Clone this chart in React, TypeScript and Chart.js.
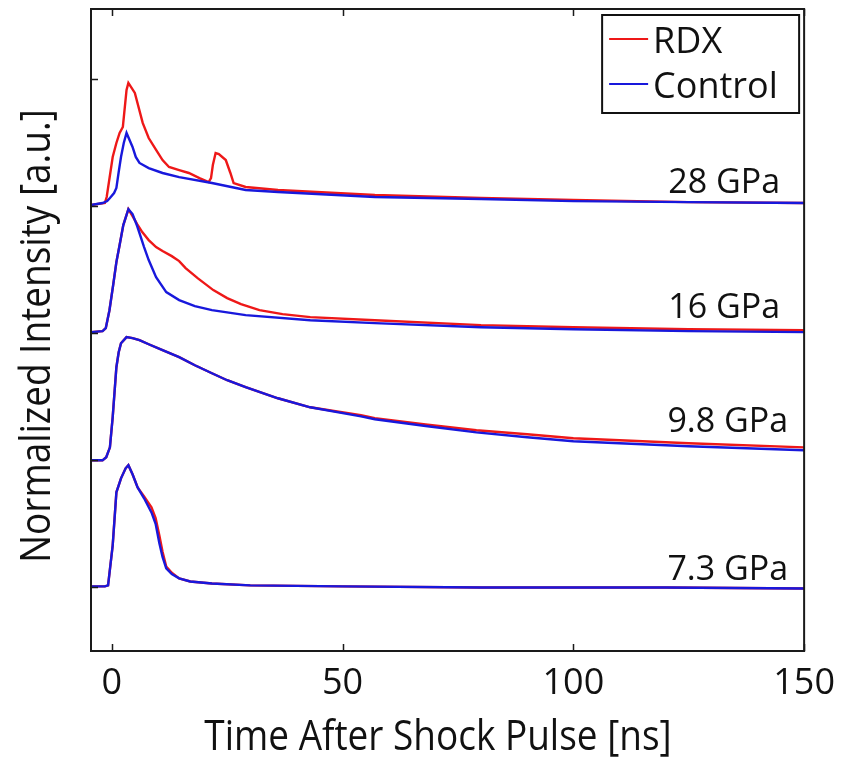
import { useEffect, useRef } from 'react';
import { Chart, registerables } from 'chart.js';
Chart.register(...registerables);

// ---------------- data ----------------
const seriesNames = ['RDX', 'Control'];
const pressureLabels = ['7.3 GPa', '9.8 GPa', '16 GPa', '28 GPa'];
const traceOffsets = [0, 1, 2, 3];
const xTicks = [0, 50, 100, 150];
const yTicks = [0, 1, 2, 3, 4];

// 7.3 GPa
const t73 = [-4.5, -1.5, -0.8, 0.2, 1.0, 2.0, 3.0, 3.6, 4.5, 5.6, 7.0, 8.6, 9.5, 10.3, 11.0, 11.8, 13, 14.6, 17, 21.7, 30, 50, 80, 100, 120, 150];
const rdx73 = [0.008, 0.008, 0.016, 0.331, 0.748, 0.858, 0.937, 0.961, 0.890, 0.787, 0.715, 0.630, 0.545, 0.410, 0.280, 0.165, 0.115, 0.071, 0.047, 0.031, 0.016, 0.008, 0.0, 0.0, 0.0, -0.008];
const ctl73 = [0.008, 0.008, 0.016, 0.331, 0.748, 0.858, 0.937, 0.961, 0.890, 0.787, 0.701, 0.590, 0.500, 0.350, 0.240, 0.150, 0.105, 0.071, 0.047, 0.031, 0.016, 0.008, 0.0, 0.0, 0.0, -0.008];

// 9.8 GPa
const t98 = [-4.5, -2, -1.2, -0.4, 0.2, 1.0, 1.5, 2.0, 3.2, 4.5, 6, 8, 11, 14.6, 18, 21.7, 25, 29, 36, 43, 54, 57, 68, 79, 90, 100, 125, 150];
const rdx98 = [0.0, 0.0, 0.024, 0.102, 0.339, 0.732, 0.850, 0.921, 0.969, 0.961, 0.945, 0.913, 0.866, 0.811, 0.748, 0.685, 0.630, 0.575, 0.488, 0.417, 0.354, 0.331, 0.283, 0.236, 0.205, 0.173, 0.134, 0.102];
const ctl98 = [0.0, 0.0, 0.024, 0.102, 0.339, 0.732, 0.850, 0.921, 0.969, 0.961, 0.945, 0.913, 0.866, 0.811, 0.748, 0.685, 0.630, 0.575, 0.488, 0.417, 0.346, 0.323, 0.270, 0.220, 0.181, 0.150, 0.110, 0.079];

// 16 GPa
const t16r = [-4.5, -2, -1.3, -0.5, 0.3, 1.0, 1.7, 2.5, 3.6, 4.5, 5.5, 6.6, 8, 9.6, 11, 13, 14.6, 16, 18.6, 22, 25, 28, 32, 37, 43, 57, 80, 100, 125, 150];
const rdx16 = [0.008, 0.016, 0.039, 0.181, 0.378, 0.559, 0.693, 0.850, 0.976, 0.921, 0.858, 0.795, 0.732, 0.677, 0.646, 0.606, 0.567, 0.512, 0.433, 0.339, 0.276, 0.228, 0.181, 0.150, 0.126, 0.102, 0.063, 0.047, 0.031, 0.024];
const t16c = [-4.5, -2, -1.3, -0.5, 0.3, 1.0, 1.7, 2.5, 3.6, 4.5, 5.5, 7, 8, 9.6, 11.8, 14.6, 18, 21.7, 29, 43, 57, 80, 100, 125, 150];
const ctl16 = [0.008, 0.016, 0.039, 0.181, 0.378, 0.559, 0.693, 0.850, 0.976, 0.937, 0.843, 0.677, 0.575, 0.441, 0.323, 0.260, 0.213, 0.181, 0.142, 0.102, 0.079, 0.047, 0.031, 0.016, 0.008];

// 28 GPa
const t28r = [-4.5, -1.5, -1.1, 0.2, 1.0, 1.7, 2.4, 3.2, 3.6, 5, 6.7, 8, 9.6, 11, 12.4, 14.6, 16.7, 19, 21, 21.5, 21.9, 22.5, 23.2, 24.7, 25.7, 26.4, 29, 36, 57, 80, 100, 125, 150];
const rdx28 = [0.008, 0.024, 0.071, 0.386, 0.496, 0.575, 0.622, 0.913, 0.969, 0.890, 0.654, 0.535, 0.441, 0.362, 0.307, 0.283, 0.260, 0.220, 0.189, 0.220, 0.323, 0.417, 0.409, 0.362, 0.260, 0.181, 0.150, 0.126, 0.087, 0.063, 0.047, 0.031, 0.024];
const t28c = [-4.5, -2, -1, -0.4, 0.5, 1.0, 1.5, 2.0, 2.6, 3.2, 4.5, 5.2, 6, 8, 11, 14.6, 21.7, 29, 36, 57, 80, 100, 125, 150];
const ctl28 = [0.008, 0.024, 0.039, 0.063, 0.102, 0.142, 0.268, 0.386, 0.496, 0.575, 0.465, 0.386, 0.339, 0.299, 0.260, 0.228, 0.181, 0.126, 0.110, 0.071, 0.055, 0.039, 0.031, 0.024];

const rdxTimes = [t73, t98, t16r, t28r];
const rdxValues = [rdx73, rdx98, rdx16, rdx28];
const ctlTimes = [t73, t98, t16c, t28c];
const ctlValues = [ctl73, ctl98, ctl16, ctl28];

// ---------------- styles ----------------
const RED = 'rgb(238, 24, 24)';
const BLUE = 'rgb(24, 24, 220)';
const FONT = '"Open Sans", "DejaVu Sans", sans-serif';

const makeXY = (ts: number[], vs: number[], off: number) => ts.map((t, i) => ({ x: t, y: vs[i] + off }));

const decor = {
  id: 'decor',
  beforeDraw(chart: any) {
    const { ctx, width, height } = chart;
    ctx.save();
    ctx.fillStyle = '#fff';
    ctx.fillRect(0, 0, width, height);
    ctx.restore();
  },
  afterDraw(chart: any) {
    const { ctx, chartArea } = chart;
    const { left, right, top, bottom } = chartArea;
    const xs = chart.scales.x;
    const ys = chart.scales.y;
    ctx.save();
    // border
    ctx.strokeStyle = '#1a1a1a';
    ctx.lineWidth = 2;
    ctx.strokeRect(left, top, right - left, bottom - top);
    // ticks
    ctx.lineWidth = 1.5;
    ctx.beginPath();
    xTicks.forEach((v) => {
      const px = Math.round(xs.getPixelForValue(v)) + 0.5;
      ctx.moveTo(px, top);
      ctx.lineTo(px, top + 7);
      ctx.moveTo(px, bottom);
      ctx.lineTo(px, bottom - 7);
    });
    yTicks.forEach((v) => {
      const py = Math.round(ys.getPixelForValue(v)) + 0.5;
      ctx.moveTo(left, py);
      ctx.lineTo(left + 7, py);
    });
    ctx.stroke();

    // pressure labels
    const labelDy = [0.055, 0.22, 0.118, 0.1];
    const labelRight = [right - 16, right - 16, right - 24, right - 24];
    ctx.fillStyle = '#111';
    ctx.font = `34px ${FONT}`;
    ctx.textAlign = 'right';
    ctx.textBaseline = 'alphabetic';
    pressureLabels.forEach((lab, i) => {
      ctx.fillText(lab, labelRight[i], ys.getPixelForValue(traceOffsets[i] + labelDy[i]));
    });

    // legend
    const bx1 = right - 202, bx2 = right - 5, by1 = top + 6, by2 = top + 104;
    ctx.fillStyle = '#fff';
    ctx.fillRect(bx1, by1, bx2 - bx1, by2 - by1);
    ctx.strokeStyle = '#111';
    ctx.lineWidth = 2;
    ctx.strokeRect(bx1, by1, bx2 - bx1, by2 - by1);
    const colors = [RED, BLUE];
    const rowY = [by1 + 24, by1 + 69];
    seriesNames.forEach((name, i) => {
      ctx.strokeStyle = colors[i];
      ctx.lineWidth = 2;
      ctx.beginPath();
      ctx.moveTo(bx1 + 7, rowY[i]);
      ctx.lineTo(bx1 + 46, rowY[i]);
      ctx.stroke();
      ctx.fillStyle = '#111';
      ctx.font = `36px ${FONT}`;
      ctx.textAlign = 'left';
      ctx.fillText(name, bx1 + 51, rowY[i] + 14);
    });

    // axis titles
    ctx.fillStyle = '#111';
    ctx.font = `42px ${FONT}`;
    ctx.textAlign = 'center';
    ctx.textBaseline = 'alphabetic';
    ctx.save();
    ctx.translate(438, 750);
    ctx.scale(0.88, 1);
    ctx.fillText('Time After Shock Pulse [ns]', 0, 0);
    ctx.restore();
    ctx.save();
    ctx.translate(50, 336);
    ctx.rotate(-Math.PI / 2);
    ctx.scale(0.88, 1);
    ctx.fillText('Normalized Intensity [a.u.]', 0, 0);
    ctx.restore();
    ctx.restore();
  },
};

export default function App() {
  const ref = useRef<HTMLCanvasElement>(null);
  useEffect(() => {
    document.body.style.margin = '0';
    const datasets: any[] = [];
    pressureLabels.forEach((_, i) => {
      datasets.push({
        label: seriesNames[0],
        data: makeXY(rdxTimes[i], rdxValues[i], traceOffsets[i]),
        borderColor: RED,
        borderWidth: 2.4,
        order: 1,
      });
      datasets.push({
        label: seriesNames[1],
        data: makeXY(ctlTimes[i], ctlValues[i], traceOffsets[i]),
        borderColor: BLUE,
        borderWidth: 2.4,
        order: 0,
      });
    });
    const chart = new Chart(ref.current as HTMLCanvasElement, {
      type: 'line',
      data: { datasets },
      options: {
        responsive: false,
        animation: false,
        devicePixelRatio: 1,
        layout: { padding: { top: 9, right: 38, left: 0, bottom: 0 } },
        elements: { point: { radius: 0 }, line: { tension: 0, fill: false } },
        plugins: { legend: { display: false }, tooltip: { enabled: false } },
        scales: {
          x: {
            type: 'linear',
            min: -4.5,
            max: 150,
            afterBuildTicks: (s: any) => {
              s.ticks = xTicks.map((v) => ({ value: v }));
            },
            afterFit: (s: any) => {
              s.height = 108;
            },
            grid: { display: false, drawTicks: false },
            border: { display: false },
            ticks: {
              font: { family: FONT, size: 36 },
              color: '#111',
              padding: 11,
              maxRotation: 0,
              autoSkip: false,
            },
          },
          y: {
            type: 'linear',
            min: -0.5,
            max: 4.55,
            afterBuildTicks: (s: any) => {
              s.ticks = yTicks.map((v) => ({ value: v }));
            },
            afterFit: (s: any) => {
              s.width = 91;
            },
            grid: { display: false, drawTicks: false },
            border: { display: false },
            ticks: { display: false },
          },
        },
      } as any,
      plugins: [decor],
    });
    return () => chart.destroy();
  }, []);
  return (
    <div style={{ width: 846, height: 759 }}>
      <canvas ref={ref} width={846} height={759} style={{ display: 'block', width: 846, height: 759 }} />
    </div>
  );
}
